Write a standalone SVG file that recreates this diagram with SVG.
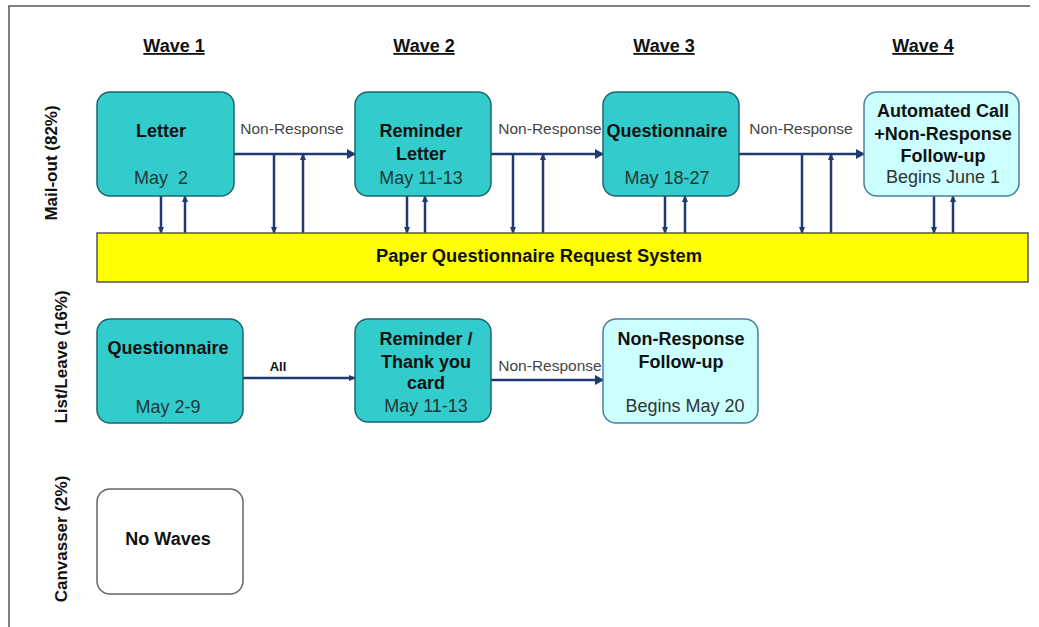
<svg xmlns="http://www.w3.org/2000/svg" width="1039" height="627" viewBox="0 0 1039 627">
<style>
.b{font-family:"Liberation Sans",Arial,sans-serif;font-weight:bold;font-size:18px;fill:#111;text-anchor:middle}
.d{font-family:"Liberation Sans",Arial,sans-serif;font-size:18px;fill:#223838;text-anchor:middle}
.w{font-family:"Liberation Sans",Arial,sans-serif;font-weight:bold;font-size:18px;fill:#111;text-anchor:middle;text-decoration:underline}
.r{font-family:"Liberation Sans",Arial,sans-serif;font-weight:bold;font-size:17px;fill:#111;text-anchor:middle}
.nr{font-family:"Liberation Sans",Arial,sans-serif;font-size:15.5px;fill:#444;text-anchor:middle}
.teal{fill:#33cccc;stroke:#1f6470;stroke-width:1.5}
.light{fill:#ccffff;stroke:#4a7fa0;stroke-width:1.5}
.white{fill:#fff;stroke:#666;stroke-width:1.5}
.c{stroke:#1f3a70;stroke-width:2.5;fill:none}
</style>
<defs>
<marker id="big" markerWidth="10" markerHeight="10" refX="8" refY="5" orient="auto" markerUnits="userSpaceOnUse"><path d="M0,0 L9,5 L0,10 Z" fill="#1f3a70"/></marker>
<marker id="sm" markerWidth="8" markerHeight="8" refX="6" refY="4" orient="auto" markerUnits="userSpaceOnUse"><path d="M0,1 L7,4 L0,7 Z" fill="#1f3a70"/></marker>
</defs>
<rect width="1039" height="627" fill="#fff"/>
<g id="frame" stroke="#555" stroke-width="1.5" fill="none"><path d="M9,627 L9,6 L1030,6"/></g>

<g id="headers">
<text class="w" x="174" y="52">Wave 1</text>
<text class="w" x="424" y="52">Wave 2</text>
<text class="w" x="664" y="52">Wave 3</text>
<text class="w" x="923" y="52">Wave 4</text>
</g>
<g id="rowlabels">
<text class="r" transform="translate(57,163) rotate(-90)">Mail-out (82%)</text>
<text class="r" transform="translate(67,357) rotate(-90)">List/Leave (16%)</text>
<text class="r" transform="translate(67,539) rotate(-90)">Canvasser (2%)</text>
</g>

<g id="connectors">
<line class="c" x1="234" y1="154" x2="355" y2="154" stroke-width="3" marker-end="url(#big)"/>
<line class="c" x1="491" y1="154" x2="603" y2="154" marker-end="url(#big)"/>
<line class="c" x1="739" y1="154" x2="864" y2="154" stroke-width="3" marker-end="url(#big)"/>
<line class="c" x1="161" y1="196" x2="161" y2="233" marker-end="url(#sm)"/>
<line class="c" x1="185" y1="233" x2="185" y2="196" marker-end="url(#sm)"/>
<line class="c" x1="274" y1="154" x2="274" y2="233" marker-end="url(#sm)"/>
<line class="c" x1="303" y1="233" x2="303" y2="154" marker-end="url(#sm)"/>
<line class="c" x1="407" y1="196" x2="407" y2="233" marker-end="url(#sm)"/>
<line class="c" x1="425" y1="233" x2="425" y2="196" marker-end="url(#sm)"/>
<line class="c" x1="513" y1="154" x2="513" y2="233" marker-end="url(#sm)"/>
<line class="c" x1="543" y1="233" x2="543" y2="154" marker-end="url(#sm)"/>
<line class="c" x1="665" y1="196" x2="665" y2="233" marker-end="url(#sm)"/>
<line class="c" x1="685" y1="233" x2="685" y2="196" marker-end="url(#sm)"/>
<line class="c" x1="802" y1="154" x2="802" y2="233" marker-end="url(#sm)"/>
<line class="c" x1="831" y1="233" x2="831" y2="154" marker-end="url(#sm)"/>
<line class="c" x1="934" y1="196" x2="934" y2="233" marker-end="url(#sm)"/>
<line class="c" x1="953" y1="233" x2="953" y2="196" marker-end="url(#sm)"/>
<line class="c" x1="243" y1="378" x2="355" y2="378" stroke-width="2" marker-end="url(#sm)"/>
<line class="c" x1="491" y1="380" x2="603" y2="380" marker-end="url(#big)"/>
<text class="nr" x="292" y="134">Non-Response</text>
<text class="nr" x="550" y="134">Non-Response</text>
<text class="nr" x="801" y="134">Non-Response</text>
<text class="nr" x="550" y="371">Non-Response</text>
<text class="b" x="278" y="371" style="font-size:13px">All</text>
</g>

<g id="letter">
<rect class="teal" x="97" y="92" width="137" height="104" rx="13"/>
<text class="b" x="161" y="137">Letter</text>
<text class="d" x="161" y="184" xml:space="preserve">May  2</text>
</g>
<g id="reminder-letter">
<rect class="teal" x="355" y="92" width="136" height="104" rx="13"/>
<text class="b" x="421" y="137">Reminder</text>
<text class="b" x="421" y="160">Letter</text>
<text class="d" x="421" y="184">May 11-13</text>
</g>
<g id="questionnaire-mail">
<rect class="teal" x="603" y="92" width="136" height="104" rx="13"/>
<text class="b" x="667" y="137">Questionnaire</text>
<text class="d" x="667" y="184">May 18-27</text>
</g>
<g id="automated-call">
<rect class="light" x="864" y="92" width="155" height="104" rx="13"/>
<text class="b" x="943" y="117">Automated Call</text>
<text class="b" x="943" y="140">+Non-Response</text>
<text class="b" x="943" y="162">Follow-up</text>
<text class="d" x="943" y="183" style="fill:#333">Begins June 1</text>
</g>
<g id="paper-request">
<rect x="97" y="233" width="931" height="49" fill="#ffff00" stroke="#555" stroke-width="1.5"/>
<text class="b" x="539" y="262" style="font-size:17.5px" textLength="326" lengthAdjust="spacingAndGlyphs">Paper Questionnaire Request System</text>
</g>

<g id="questionnaire-list">
<rect class="teal" x="97" y="319" width="146" height="104" rx="13"/>
<text class="b" x="168" y="354">Questionnaire</text>
<text class="d" x="168" y="413">May 2-9</text>
</g>
<g id="reminder-card">
<rect class="teal" x="355" y="319" width="136" height="103" rx="13"/>
<text class="b" x="426" y="345">Reminder /</text>
<text class="b" x="426" y="368">Thank you</text>
<text class="b" x="426" y="389">card</text>
<text class="d" x="426" y="412">May 11-13</text>
</g>
<g id="nr-followup">
<rect class="light" x="603" y="319" width="155" height="104" rx="13"/>
<text class="b" x="681" y="345">Non-Response</text>
<text class="b" x="681" y="368">Follow-up</text>
<text class="d" x="685" y="412" style="fill:#333">Begins May 20</text>
</g>
<g id="no-waves">
<rect class="white" x="97" y="489" width="146" height="105" rx="13"/>
<text class="b" x="168" y="545">No Waves</text>
</g>
</svg>
